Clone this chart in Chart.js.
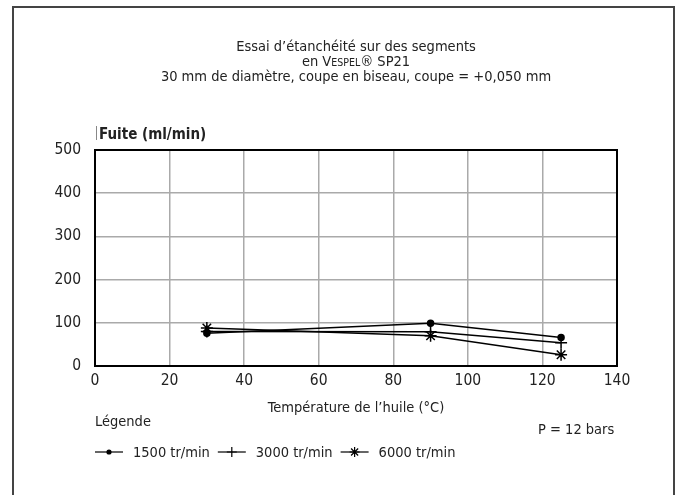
<!DOCTYPE html>
<html><head><meta charset="utf-8">
<script src="https://cdn.jsdelivr.net/npm/chart.js@4/dist/chart.umd.min.js"></script>
<style>html,body{margin:0;padding:0;background:#fff}#wrap{width:679px;height:495px}</style>
</head><body><div id="wrap"><canvas id="c" width="679" height="495"></canvas></div>
<script>
const temperatures = [30, 90, 125];
const fuite1500 = [76, 99, 66];
const fuite3000 = [80, 79, 54];
const fuite6000 = [88, 70, 26];
const seriesLabels = ['1500 tr/min', '3000 tr/min', '6000 tr/min'];
const xTicks = [0, 20, 40, 60, 80, 100, 120, 140];
const yTicks = [0, 100, 200, 300, 400, 500];
const titleLine1 = "Essai d’étanchéité sur des segments";
const titleLine3 = "30 mm de diamètre, coupe en biseau, coupe = +0,050 mm";
const yTitle = "Fuite (ml/min)";
const xTitle = "Température de l’huile (°C)";
const legendTitle = "Légende";
const pressure = "P = 12 bars";

const FONT = '"Liberation Sans Narrow", "DejaVu Sans Condensed", "Liberation Sans", sans-serif';

const toPts = arr => arr.map((v, i) => ({x: temperatures[i], y: v}));
const styles = ['circle', 'cross', 'star'];
const radii = [3, 6, 6];
const datasets = [fuite1500, fuite3000, fuite6000].map((d, i) => ({
  label: seriesLabels[i], data: toPts(d),
  borderColor: '#000', backgroundColor: '#000', borderWidth: 1.5,
  pointStyle: styles[i], pointRadius: radii[i], pointBorderWidth: 1.5,
  pointBorderColor: '#000', pointBackgroundColor: '#000', tension: 0
}));

const deco = {
  id: 'deco',
  afterDraw(chart) {
    const ctx = chart.ctx, a = chart.chartArea;
    ctx.save();
    ctx.strokeStyle = '#444'; ctx.lineWidth = 2;
    ctx.beginPath(); ctx.moveTo(13, 495); ctx.lineTo(13, 7); ctx.lineTo(674, 7); ctx.lineTo(674, 495); ctx.stroke();
    ctx.strokeStyle = '#000'; ctx.lineWidth = 2;
    ctx.strokeRect(a.left, a.top, a.right - a.left, a.bottom - a.top);
    ctx.fillStyle = '#222';
    ctx.textBaseline = 'alphabetic';
    const cx = (a.left + a.right) / 2;
    const T = '14.5px ' + FONT;
    ctx.font = T; ctx.textAlign = 'center';
    ctx.fillText(titleLine1, cx, 51);
    const small = '10.5px ' + FONT;
    const parts = [['en V', T], ['ESPEL', small], ['® SP21', T]];
    let w = 0; parts.forEach(p => { ctx.font = p[1]; w += ctx.measureText(p[0]).width; });
    let x = cx - w / 2; ctx.textAlign = 'left';
    parts.forEach(p => { ctx.font = p[1]; ctx.fillText(p[0], x, 66); x += ctx.measureText(p[0]).width; });
    ctx.font = T; ctx.textAlign = 'center';
    ctx.fillText(titleLine3, cx, 81);
    ctx.font = 'bold 15px ' + FONT; ctx.textAlign = 'left';
    ctx.fillText(yTitle, a.left + 4, 139);
    ctx.fillStyle = '#888'; ctx.fillRect(a.left + 1, 126, 1, 14); ctx.fillStyle = '#222';
    ctx.font = T; ctx.textAlign = 'center';
    ctx.fillText(xTitle, cx, 412);
    ctx.textAlign = 'left';
    ctx.fillText(legendTitle, 95, 426);
    ctx.fillText(pressure, 538, 434);
    let lx = 95; const ly = 452;
    chart.data.datasets.forEach((ds, i) => {
      ctx.strokeStyle = '#000'; ctx.fillStyle = '#000'; ctx.lineWidth = 1.2;
      ctx.beginPath(); ctx.moveTo(lx, ly); ctx.lineTo(lx + 28, ly); ctx.stroke();
      Chart.helpers.drawPoint(ctx, {pointStyle: ds.pointStyle, radius: i === 0 ? 2 : 5, borderWidth: 1.2}, lx + 14, ly);
      ctx.fill();
      ctx.fillStyle = '#222'; ctx.font = T; ctx.textAlign = 'left';
      ctx.fillText(ds.label, lx + 38, ly + 5);
      lx += 38 + ctx.measureText(ds.label).width + 8;
    });
    ctx.restore();
  }
};

new Chart(document.getElementById('c'), {
  type: 'line',
  data: { datasets },
  options: {
    responsive: false, animation: false,
    layout: { padding: { top: 150, right: 62, left: 0, bottom: 0 } },
    plugins: { legend: { display: false }, tooltip: { enabled: false } },
    scales: {
      x: {
        type: 'linear', min: 0, max: 140,
        afterBuildTicks: s => { s.ticks = xTicks.map(v => ({value: v})); },
        afterFit: s => { s.height = 129; },
        grid: { color: '#aaa', lineWidth: 1.5, drawTicks: false },
        border: { color: '#000', width: 2 },
        ticks: { color: '#222', font: { family: FONT, size: 15.5 }, padding: 6 }
      },
      y: {
        type: 'linear', min: 0, max: 500,
        afterBuildTicks: s => { s.ticks = yTicks.map(v => ({value: v})); },
        afterFit: s => { s.width = 95; },
        grid: { color: '#aaa', lineWidth: 1.5, drawTicks: false },
        border: { color: '#000', width: 2 },
        ticks: { color: '#222', font: { family: FONT, size: 15.5 }, padding: 14 }
      }
    }
  },
  plugins: [deco]
});
</script></body></html>
